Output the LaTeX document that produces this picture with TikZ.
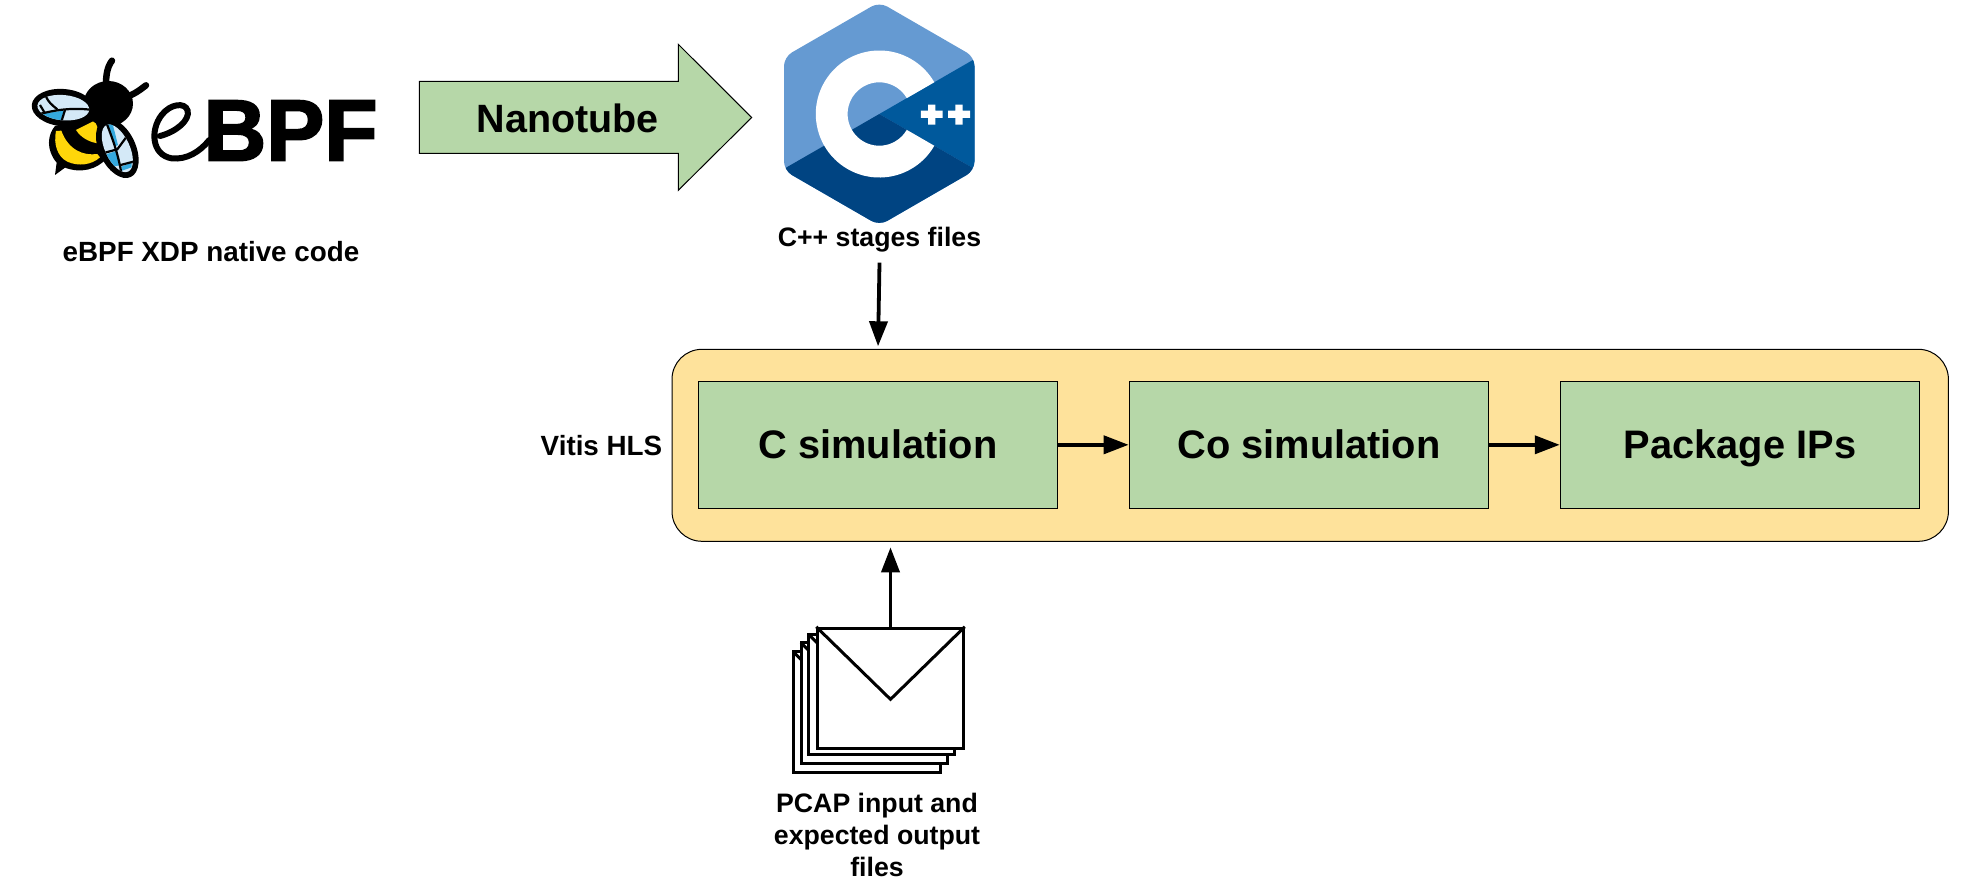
\documentclass[tikz,border=0pt]{standalone}
\usepackage{fontspec}
\setmainfont{Liberation Sans}
\newfontfamily\logofont[FakeBold=2.2]{Liberation Sans Bold}
\usetikzlibrary{arrows.meta}
\definecolor{boxgreen}{HTML}{B6D7A8}
\definecolor{boxyellow}{HTML}{FEE29B}
\definecolor{cpplight}{HTML}{659AD2}
\definecolor{cppmid}{HTML}{00599C}
\definecolor{cppdark}{HTML}{004482}
\definecolor{beeyellow}{HTML}{FFD60A}
\definecolor{beeblue}{HTML}{35A9DE}
\definecolor{beepale}{HTML}{D4E9F7}
\tikzset{
  stage/.style={draw=black,line width=1pt,fill=boxgreen,minimum width=359.5pt,minimum height=127pt,inner sep=0pt,
    font=\bfseries\fontsize{39.8}{40}\selectfont,text height=28.3pt,text depth=0pt},
  group/.style={draw=black,line width=1pt,fill=boxyellow,rounded corners=30pt,minimum width=1276.4pt,minimum height=192pt,inner sep=0pt},
  label/.style={font=\bfseries\fontsize{26.7}{32}\selectfont,align=center,inner sep=0pt},
  flow/.style={line width=3.8pt,-{Triangle[length=25pt,width=18pt]}},
  mail/.style={draw=black,line width=3pt,fill=white,miter limit=10},
  veinline/.style={draw=black,line width=2.2pt},
}
\begin{document}
\begin{tikzpicture}[x=1pt,y=-1pt]
\useasboundingbox (0,0) rectangle (1962,887);
\fill[white] (0,0) rectangle (1962,887);

% --- eBPF bee ---
\begin{scope}[shift={(20,50)},x=0.3333pt,y=-0.3333pt]
  \draw[line width=6.5pt,line cap=round] (258,105) .. controls (258,75) and (262,50) .. (276,32);
  \draw[line width=6.5pt,line cap=round] (315,142) .. controls (340,135) and (360,120) .. (378,106);
  \fill[black] (105,375) -- (110,338) .. controls (78,300) and (82,255) .. (105,228) -- (240,200) -- (265,320)
     .. controls (230,362) and (180,370) .. (135,353) -- cycle;
  \fill[beeyellow] (108,243) .. controls (100,282) and (112,320) .. (142,335) .. controls (175,350) and (215,345) .. (240,322)
     -- (232,312) .. controls (190,318) and (145,300) .. (124,242) -- cycle;
  \fill[beeyellow] (168,240) -- (224,212) -- (245,262) -- (232,280) .. controls (205,275) and (182,262) .. (168,240) -- cycle;
  \fill[black] (265,161) ellipse [x radius=74,y radius=68];
  % left wing
  \fill[black] (130,173) ellipse [x radius=95,y radius=56,rotate=-5];
  \begin{scope}
    \clip (130,173) ellipse [x radius=78,y radius=38,rotate=-5];
    \fill[beepale] (40,120) rectangle (220,230);
    \fill[beeblue] (55,192) -- (132,182) -- (118,222) -- (92,214) -- cycle;
    \draw[veinline] (78,140) .. controls (85,155) and (95,165) .. (112,178);
    \draw[veinline] (45,195) .. controls (90,185) and (140,170) .. (220,180);
    \draw[veinline] (135,180) -- (120,228);
    \draw[veinline] (75,190) -- (60,165);
  \end{scope}
  % right wing
  \fill[black] (292,295) ellipse [x radius=95,y radius=55,rotate=-65];
  \begin{scope}
    \clip (292,295) ellipse [x radius=77,y radius=37,rotate=-65];
    \fill[beepale] (230,200) rectangle (350,380);
    \fill[beeblue] (248,316) -- (292,302) -- (300,346) -- (276,350) -- cycle;
    \fill[beeblue] (262,222) -- (278,222) -- (294,285) -- (284,290) -- cycle;
    \fill[beeblue] (304,350) -- (335,338) -- (335,352) -- (306,362) -- cycle;
    \draw[veinline] (258,215) .. controls (275,260) and (295,310) .. (305,375);
    \draw[veinline] (240,312) -- (292,298) -- (320,260);
    \draw[veinline] (302,345) -- (340,335);
  \end{scope}
\end{scope}
% --- eBPF wordmark ---
\begin{scope}[shift={(140,80)},x=0.3333pt,y=-0.3333pt]
  \draw[line width=6pt,line cap=round] (60,168) .. controls (110,155) and (150,120) .. (143,92)
     .. controls (135,65) and (90,72) .. (65,105) .. controls (30,150) and (35,225) .. (95,235)
     .. controls (140,240) and (180,215) .. (208,180);
\end{scope}
\node[anchor=base,inner sep=0pt,font=\logofont\fontsize{87}{90}\selectfont] (bpf) at (290.5,160.5) {BPF};
\node[label,anchor=base,font=\bfseries\fontsize{27.8}{32}\selectfont] (ebpflabel) at (211,261.7) {eBPF XDP native code};

% --- Nanotube arrow ---
\path[draw=black,line width=1pt,fill=boxgreen,miter limit=10] (419.3,81.3) -- (678.3,81.3) -- (678.3,44.3) -- (751.7,117.5)
   -- (678.3,190.3) -- (678.3,153.3) -- (419.3,153.3) -- cycle;
\node[anchor=base,inner sep=0pt,font=\bfseries\fontsize{39.5}{40}\selectfont] (nano) at (567.7,132.2) {Nanotube};

% --- C++ logo ---
\begin{scope}
  \clip[rounded corners=9pt] (879.3,2) -- (974.5,57) -- (974.5,170.5) -- (879.3,225.5) -- (784,170.5) -- (784,57) -- cycle;
  \fill[cpplight] (780,0) rectangle (980,230);
  \fill[cppmid] (879.3,114) -- (985,53) -- (985,175) -- cycle;
  \fill[cppdark] (879.3,114) -- (985,175) -- (985,230) -- (775,230) -- (775,174) -- cycle;
\end{scope}
\fill[white] (879.3,114) ++(30:63.5) arc[start angle=30,end angle=330,radius=63.5]
   -- ++(150:31.8) arc[start angle=330,end angle=30,radius=31.7] -- cycle;
\fill[white] (920.8,110.5) rectangle (942.5,117.9) (928,104.5) rectangle (935.4,124.5);
\fill[white] (948.2,110.5) rectangle (970,117.9) (955.3,104.5) rectangle (962.7,124.5);
\node[label,anchor=base,text depth=16pt] (cpplabel) at (879.5,246.5) {C++ stages files};

% --- Vitis HLS group ---
\node[group] (hls) at (1310.2,445.3) {};
\node[label,anchor=base,font=\bfseries\fontsize{27.8}{32}\selectfont] (vitis) at (601.5,455) {Vitis HLS};
\node[stage] (csim) at (878,444.8) {C simulation};
\node[stage] (cosim) at (1308.9,444.8) {Co simulation};
\node[stage] (pkg) at (1740,444.8) {Package IPs};
\draw[flow] (csim.east) -- (cosim.west);
\draw[flow] (cosim.east) -- (pkg.west);
\draw[flow,shorten >=2.5pt] (cpplabel.south) -- (csim.north |- hls.north);

% --- PCAP envelopes ---
\foreach \l/\t/\r/\b in {793.3/651.7/940/772.7, 801/642.7/947.3/763.3, 808.3/634/954.3/754.3}{
  \path[mail] (\l,\t) rectangle (\r,\b);
  \draw[line width=3pt] (\l,\t) -- ++(20,20);
}
\node[mail,minimum width=145.6pt,minimum height=120pt,inner sep=0pt] (env) at (890.5,688.3) {};
\draw[line width=3pt,line join=miter] (env.north west) -- (890.5,699.3) -- (env.north east);
\draw[flow,shorten >=5.5pt] (env.north) -- (env.north |- hls.south);
\node[label,anchor=base] (pcap) at (877,876) {PCAP input and\\[0pt]expected output\\[0pt]files};
\end{tikzpicture}
\end{document}
